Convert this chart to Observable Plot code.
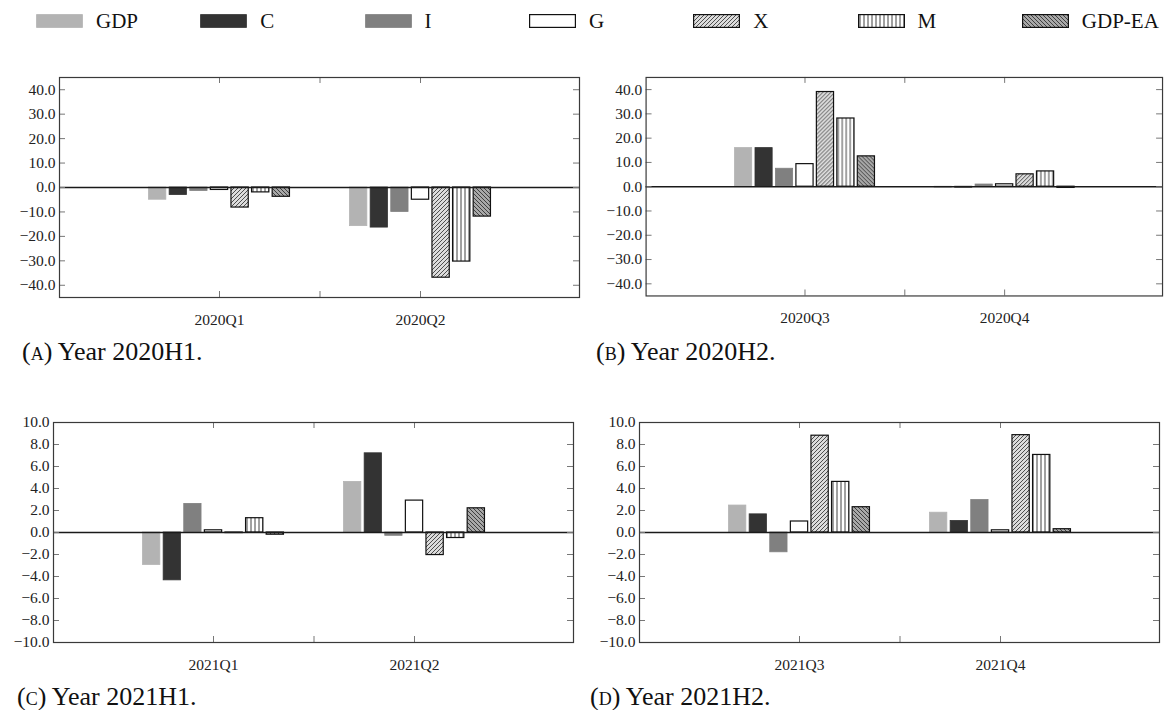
<!DOCTYPE html>
<html><head><meta charset="utf-8">
<script src="https://cdn.jsdelivr.net/npm/d3@7"></script>
<script src="https://cdn.jsdelivr.net/npm/@observablehq/plot@0.6"></script>
<style>
html,body{margin:0;padding:0;background:#fff;width:1168px;height:710px;overflow:hidden;position:relative;}
.panel{position:absolute;}
.cap{position:absolute;font-family:"Liberation Serif",serif;font-size:26px;line-height:26px;color:#111;white-space:nowrap;}
.sc{font-variant:small-caps;}
.leg{position:absolute;top:14px;display:flex;align-items:center;height:14px;font-family:"Liberation Serif",serif;font-size:21px;color:#111;white-space:nowrap;}
.leg svg{display:block;margin-right:13px;}
</style></head><body>
<svg width="0" height="0" style="position:absolute;left:0;top:0">
  <defs>
    <pattern id="patX" patternUnits="userSpaceOnUse" width="4" height="4">
      <rect width="4" height="4" fill="#dcdcdc"/>
      <path d="M-1,1 l2,-2 M0,4 l4,-4 M3,5 l2,-2" stroke="#111" stroke-width="0.7"/>
    </pattern>
    <pattern id="patEA" patternUnits="userSpaceOnUse" width="4" height="4">
      <rect width="4" height="4" fill="#a8a8a8"/>
      <path d="M-1,3 l2,2 M0,0 l4,4 M3,-1 l2,2" stroke="#111" stroke-width="0.7"/>
    </pattern>
    <pattern id="patM" patternUnits="userSpaceOnUse" width="4" height="4">
      <rect width="4" height="4" fill="#ffffff"/>
      <path d="M2,0 v4" stroke="#111" stroke-width="0.8"/>
    </pattern>
  </defs>
</svg>
<div id="legend"></div>
<div id="pA" class="panel"></div>
<div id="pB" class="panel"></div>
<div id="pC" class="panel"></div>
<div id="pD" class="panel"></div>
<div class="cap" style="left:22px;top:339px"><span class="sc">(a)</span> Year 2020H1.</div>
<div class="cap" style="left:596px;top:339px"><span class="sc">(b)</span> Year 2020H2.</div>
<div class="cap" style="left:17px;top:684px"><span class="sc">(c)</span> Year 2021H1.</div>
<div class="cap" style="left:590px;top:684px"><span class="sc">(d)</span> Year 2021H2.</div>
<script>
// ---- data ----
const series = ["GDP", "C", "I", "G", "X", "M", "GDP-EA"];
const quarters2020H1 = ["2020Q1", "2020Q2"];
const quarters2020H2 = ["2020Q3", "2020Q4"];
const quarters2021H1 = ["2021Q1", "2021Q2"];
const quarters2021H2 = ["2021Q3", "2021Q4"];
// values in series order: GDP, C, I, G, X, M, GDP-EA
const v2020Q1 = [-5.0, -3.1, -1.4, -1.0, -8.2, -2.0, -3.8];
const v2020Q2 = [-15.8, -16.4, -10.0, -5.0, -36.9, -30.3, -11.9];
const v2020Q3 = [15.9, 15.9, 7.4, 9.3, 39.0, 28.1, 12.5];
const v2020Q4 = [-0.4, -0.4, 0.9, 1.0, 5.1, 6.3, -0.5];
const v2021Q1 = [-2.95, -4.35, 2.6, 0.2, -0.05, 1.3, -0.2];
const v2021Q2 = [4.6, 7.2, -0.3, 2.9, -2.05, -0.5, 2.2];
const v2021Q3 = [2.45, 1.65, -1.8, 1.0, 8.8, 4.6, 2.3];
const v2021Q4 = [1.8, 1.05, 2.95, 0.2, 8.85, 7.05, 0.3];
const ticksWide = [-40, -30, -20, -10, 0, 10, 20, 30, 40];
const ticksNarrow = [-10, -8, -6, -4, -2, 0, 2, 4, 6, 8, 10];

// ---- styles ----
const styles = [
  {fill: "#b3b3b3", stroke: "#b3b3b3", sw: 0.8},
  {fill: "#333333", stroke: "#333333", sw: 0.8},
  {fill: "#808080", stroke: "#808080", sw: 0.8},
  {fill: "#ffffff", stroke: "#111", sw: 1.2},
  {fill: "url(#patX)", stroke: "#111", sw: 1.2},
  {fill: "url(#patM)", stroke: "#111", sw: 1.2},
  {fill: "url(#patEA)", stroke: "#111", sw: 1.2}
];

const FW = 520, FH = 220, ML = 60, MR = 6, MT = 6, MB = 44;
const slot = 0.1025, bw = 0.086;
const fmt = d => (d < 0 ? "\u2212" : "") + Math.abs(d).toFixed(1);

function panel(el, frameLeft, frameTop, quarters, vals, yTicks, yDom) {
  const rows = [];
  vals.forEach((arr, q) => arr.forEach((v, s) => rows.push({q, s, v})));
  const marks = [];
  styles.forEach((st, k) => {
    marks.push(Plot.rectY(rows.filter(d => d.s === k), {
      x1: d => d.q + (d.s - 3) * slot - bw / 2,
      x2: d => d.q + (d.s - 3) * slot + bw / 2,
      y1: 0, y2: "v",
      fill: st.fill, stroke: st.stroke, strokeWidth: st.sw
    }));
  });
  marks.push(Plot.ruleY([0], {stroke: "#1a1a1a", strokeWidth: 1.6}));
  marks.push(Plot.tickY(yTicks, {y: d => d, insetRight: FW - 6, stroke: "#777"}));
  marks.push(Plot.tickY(yTicks, {y: d => d, insetLeft: FW - 6, stroke: "#777"}));
  marks.push(Plot.tickX([0, 0.5, 1], {x: d => d, insetBottom: FH - 6, stroke: "#777"}));
  marks.push(Plot.tickX([0, 0.5, 1], {x: d => d, insetTop: FH - 6, stroke: "#777"}));
  marks.push(Plot.axisY(yTicks, {tickSize: 0, tickPadding: 4, tickFormat: fmt, fill: "#222", label: null}));
  marks.push(Plot.axisX([0, 1], {tickSize: 0, tickPadding: 16, tickFormat: i => quarters[i], fill: "#222", label: null}));
  marks.push(Plot.frame({stroke: "#3a3a3a", strokeWidth: 1.2}));
  const p = Plot.plot({
    width: FW + ML + MR, height: FH + MT + MB,
    marginLeft: ML, marginRight: MR, marginTop: MT, marginBottom: MB,
    x: {domain: [-0.796, 1.791], label: null},
    y: {domain: yDom, label: null},
    style: {fontFamily: "Liberation Serif, serif", fontSize: "15.5px", background: "transparent", overflow: "visible"},
    marks
  });
  const box = document.getElementById(el);
  box.style.left = (frameLeft - ML) + "px";
  box.style.top = (frameTop - MT) + "px";
  box.appendChild(p);
}

panel("pA", 59, 77, quarters2020H1, [v2020Q1, v2020Q2], ticksWide, [-45, 45]);
panel("pB", 646, 77, quarters2020H2, [v2020Q3, v2020Q4], ticksWide, [-45, 45]);
panel("pC", 53, 422, quarters2021H1, [v2021Q1, v2021Q2], ticksNarrow, [-10, 10]);
panel("pD", 639, 422, quarters2021H2, [v2021Q3, v2021Q4], ticksNarrow, [-10, 10]);

// ---- legend ----
const leg = document.getElementById("legend");
series.forEach((name, i) => {
  const st = styles[i];
  const d = document.createElement("div");
  d.className = "leg";
  d.style.left = (36 + i * 164.3) + "px";
  d.innerHTML = `<svg width="47" height="14"><rect x="0.6" y="0.6" width="45.8" height="12.8" fill="${st.fill}" stroke="${st.stroke}" stroke-width="${st.sw}"/></svg><span>${name}</span>`;
  leg.appendChild(d);
});
</script>
</body></html>
